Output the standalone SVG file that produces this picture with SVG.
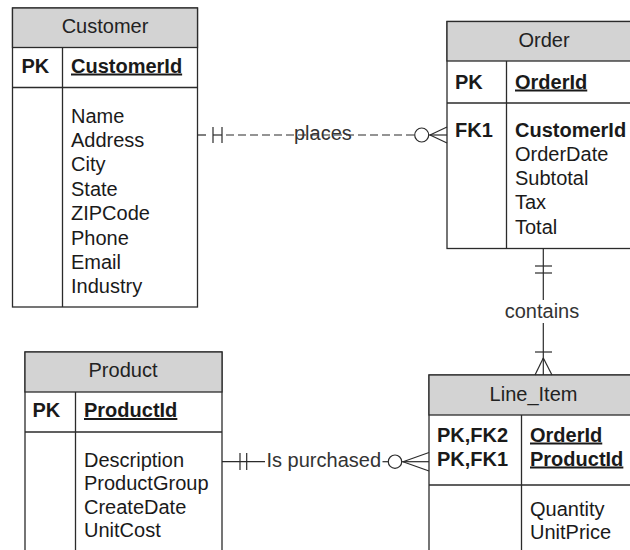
<svg xmlns="http://www.w3.org/2000/svg" width="630" height="550" viewBox="0 0 630 550">
  <style>
    .box { fill: #ffffff; stroke: #2b2b2b; stroke-width: 1.3; }
    .hdr { fill: #d3d3d3; stroke: #2b2b2b; stroke-width: 1.3; }
    .sep { stroke: #2b2b2b; stroke-width: 1.3; fill: none; }
    text { font-family: "Liberation Sans", Arial, sans-serif; font-size: 20px; fill: #1a1a1a; }
    .title { text-anchor: middle; fill: #222222; }
    .b { font-weight: bold; }
    .u { font-weight: bold; text-decoration: underline; }
    .conn { stroke: #2b2b2b; stroke-width: 1.2; fill: none; }
    .dash { stroke-dasharray: 8 4; }
    .lbl { fill: #333333; }
  </style>

  <g id="Customer">
    <rect class="box" x="12.5" y="8" width="185" height="299"/>
    <rect class="hdr" x="12.5" y="8" width="185" height="39.5"/>
    <line class="sep" x1="12.5" y1="87.5" x2="197.5" y2="87.5"/>
    <line class="sep" x1="62.5" y1="47.5" x2="62.5" y2="307"/>
    <text class="title" x="105" y="33">Customer</text>
    <text class="b" x="21.5" y="72.5">PK</text>
    <text class="u" x="71" y="72.5">CustomerId</text>
    <text x="71" y="122.5">Name</text>
    <text x="71" y="146.9">Address</text>
    <text x="71" y="171.3">City</text>
    <text x="71" y="195.7">State</text>
    <text x="71" y="220.1">ZIPCode</text>
    <text x="71" y="244.5">Phone</text>
    <text x="71" y="268.9">Email</text>
    <text x="71" y="293.3">Industry</text>
  </g>

  <g id="Order">
    <rect class="box" x="447" y="21.5" width="194" height="227"/>
    <rect class="hdr" x="447" y="21.5" width="194" height="39.5"/>
    <line class="sep" x1="447" y1="103" x2="641" y2="103"/>
    <line class="sep" x1="506.5" y1="61" x2="506.5" y2="248.5"/>
    <text class="title" x="544" y="47">Order</text>
    <text class="b" x="455" y="88.5">PK</text>
    <text class="u" x="515" y="88.5">OrderId</text>
    <text class="b" x="455" y="136.5">FK1</text>
    <text class="b" x="515" y="136.5">CustomerId</text>
    <text x="515" y="161">OrderDate</text>
    <text x="515" y="185">Subtotal</text>
    <text x="515" y="209">Tax</text>
    <text x="515" y="233.5">Total</text>
  </g>

  <g id="Product">
    <rect class="box" x="25" y="352" width="197" height="210"/>
    <rect class="hdr" x="25" y="352" width="197" height="40"/>
    <line class="sep" x1="25" y1="432" x2="222" y2="432"/>
    <line class="sep" x1="75.5" y1="392" x2="75.5" y2="562"/>
    <text class="title" x="123" y="377">Product</text>
    <text class="b" x="32.5" y="417">PK</text>
    <text class="u" x="84" y="417">ProductId</text>
    <text x="84" y="466.5">Description</text>
    <text x="84" y="490">ProductGroup</text>
    <text x="84" y="513.5">CreateDate</text>
    <text x="84" y="537">UnitCost</text>
  </g>

  <g id="Line_Item">
    <rect class="box" x="429" y="375" width="210" height="190"/>
    <rect class="hdr" x="429" y="375" width="210" height="40"/>
    <line class="sep" x1="429" y1="485" x2="639" y2="485"/>
    <line class="sep" x1="521.5" y1="415" x2="521.5" y2="565"/>
    <text class="title" x="533.5" y="401">Line_Item</text>
    <text class="b" x="437" y="441.5">PK,FK2</text>
    <text class="b" x="437" y="465.5">PK,FK1</text>
    <text class="u" x="530" y="441.5">OrderId</text>
    <text class="u" x="530" y="465.5">ProductId</text>
    <text x="530" y="516">Quantity</text>
    <text x="530" y="539">UnitPrice</text>
  </g>

  <g id="connectors">
    <!-- Customer places Order -->
    <g id="places">
      <line class="conn" x1="197.5" y1="135" x2="206" y2="135"/>
      <line class="conn" x1="213" y1="135" x2="222" y2="135"/>
      <line class="conn dash" x1="226" y1="135" x2="414.5" y2="135"/>
      <line class="conn" x1="213" y1="127" x2="213" y2="143"/>
      <line class="conn" x1="222" y1="127" x2="222" y2="143"/>
      <circle class="conn" cx="421.7" cy="135" r="7"/>
      <line class="conn" x1="429" y1="135" x2="447" y2="135"/>
      <line class="conn" x1="430" y1="135" x2="447" y2="127"/>
      <line class="conn" x1="430" y1="135" x2="447" y2="143"/>
      <text class="lbl" x="294" y="140">places</text>
    </g>
    <!-- Order contains Line_Item -->
    <g id="contains">
      <line class="conn" x1="543.3" y1="248.5" x2="543.3" y2="300"/>
      <line class="conn" x1="543.3" y1="323" x2="543.3" y2="375"/>
      <line class="conn" x1="535" y1="266" x2="552" y2="266"/>
      <line class="conn" x1="535" y1="273" x2="552" y2="273"/>
      <line class="conn" x1="535" y1="352" x2="552" y2="352"/>
      <line class="conn" x1="543.3" y1="358" x2="535" y2="375"/>
      <line class="conn" x1="543.3" y1="358" x2="552" y2="375"/>
      <text class="lbl" x="542" y="317.5" text-anchor="middle">contains</text>
    </g>
    <!-- Product is purchased as Line_Item -->
    <g id="purchased">
      <line class="conn" x1="222" y1="461.7" x2="265" y2="461.7"/>
      <line class="conn" x1="240" y1="453" x2="240" y2="470"/>
      <line class="conn" x1="246.7" y1="453" x2="246.7" y2="470"/>
      <line class="conn" x1="382.5" y1="461.7" x2="388.3" y2="461.7"/>
      <circle class="conn" cx="395" cy="461.7" r="6.7"/>
      <line class="conn" x1="401.7" y1="461.7" x2="429" y2="461.7"/>
      <line class="conn" x1="403" y1="461.7" x2="429" y2="452.5"/>
      <line class="conn" x1="403" y1="461.7" x2="429" y2="471"/>
      <text class="lbl" x="266.5" y="466.7">Is purchased</text>
    </g>
  </g>
</svg>
